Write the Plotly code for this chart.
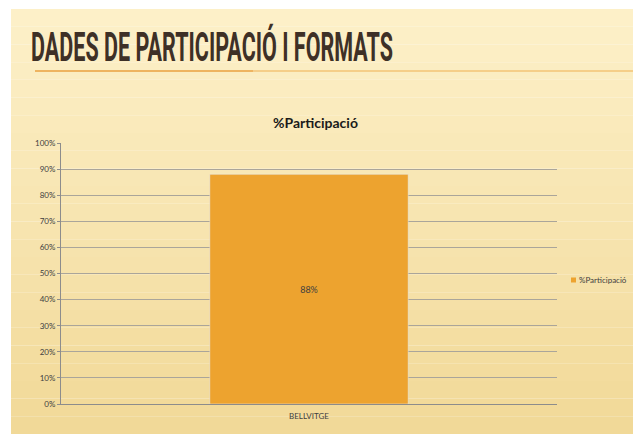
import plotly.graph_objects as go

# ── Data
categories = ['BELLVITGE']
participacio = [0.88]
value_labels = ['88%']
series_name = '%Participació'
tick_vals = [0, 0.1, 0.2, 0.3, 0.4, 0.5, 0.6, 0.7, 0.8, 0.9, 1.0]
tick_text = ['0%', '10%', '20%', '30%', '40%', '50%', '60%', '70%', '80%', '90%', '100%']

# ── Style constants (pixel positions are figure coordinates; page body adds 8px)
W, H = 633, 426
PLOT_L, PLOT_R, PLOT_T, PLOT_B = 53, 549, 135, 396
BAR_COLOR = '#eda32f'
TEXT_COLOR = '#404040'
GRID_COLOR = '#aaa59a'
CHART_FONT = 'Lato'
TITLE_WIDTH = 362


def px_x(x):
    return (x - PLOT_L) / (PLOT_R - PLOT_L)


def px_y(y):
    return (PLOT_B - y) / (PLOT_B - PLOT_T)


fig = go.Figure()

fig.add_trace(go.Bar(
    x=categories, y=participacio,
    name=series_name, showlegend=False,
    marker_color=BAR_COLOR,
    text=value_labels, textposition='inside',
    insidetextanchor='middle',
    textfont=dict(size=9, color=TEXT_COLOR, family=CHART_FONT),
    width=0.4,
))

# slide background: soft vertical gradient
shapes = []
top, bottom = (253, 240, 200), (241, 217, 152)
n_bands = 24
for i in range(n_bands):
    t = i / (n_bands - 1)
    c = tuple(round(top[k] + (bottom[k] - top[k]) * t) for k in range(3))
    y0 = 1 + (H - 1) * i / n_bands
    y1 = 1 + (H - 1) * (i + 1) / n_bands
    shapes.append(dict(
        type='rect', xref='paper', yref='paper', layer='below',
        x0=px_x(3), x1=px_x(W), y0=px_y(y1), y1=px_y(y0),
        fillcolor='rgb(%d,%d,%d)' % c, line_width=0,
    ))

# orange rule under the slide title
shapes.append(dict(
    type='line', xref='paper', yref='paper',
    x0=px_x(27), x1=px_x(245), y0=px_y(63), y1=px_y(63),
    line=dict(color='#eaa040', width=1.5),
))
shapes.append(dict(
    type='line', xref='paper', yref='paper',
    x0=px_x(245), x1=px_x(W), y0=px_y(63), y1=px_y(63),
    line=dict(color='#f0b050', width=1.2),
))

# legend key (small square swatch, like the original legend)
shapes.append(dict(
    type='rect', xref='paper', yref='paper',
    x0=px_x(563), x1=px_x(568), y0=px_y(274.5), y1=px_y(269.5),
    fillcolor=BAR_COLOR, line_width=0,
))

annotations = [
    dict(
        text='<b>DADES DE PARTICIPACIÓ I FORMATS</b>',
        xref='paper', yref='paper', x=px_x(21), y=px_y(13),
        xanchor='left', yanchor='top', showarrow=False,
        font=dict(family='Roboto', size=41, color='#3e3026'),
    ),
    dict(
        text='<b>%Participació</b>',
        xref='paper', yref='paper', x=px_x(307), y=px_y(114),
        xanchor='center', yanchor='middle', showarrow=False,
        font=dict(family=CHART_FONT, size=14, color='#1a1a1a'),
    ),
    dict(
        text=series_name,
        xref='paper', yref='paper', x=px_x(569), y=px_y(272),
        xanchor='left', yanchor='middle', showarrow=False,
        font=dict(family=CHART_FONT, size=8, color=TEXT_COLOR),
    ),
]

fig.update_layout(
    width=W, height=H,
    margin=dict(l=PLOT_L, r=W - PLOT_R, t=PLOT_T, b=H - PLOT_B),
    paper_bgcolor='white',
    plot_bgcolor='rgba(0,0,0,0)',
    shapes=shapes,
    annotations=annotations,
    showlegend=False,
)
fig.update_yaxes(
    range=[0, 1], tickvals=tick_vals, ticktext=tick_text,
    tickfont=dict(family=CHART_FONT, size=8, color=TEXT_COLOR),
    showgrid=True, gridcolor=GRID_COLOR, gridwidth=1,
    showline=True, linecolor='#8c8c8c', linewidth=1,
    ticks='outside', ticklen=3, tickcolor='#8c8c8c',
    zeroline=False,
)
fig.update_xaxes(
    tickfont=dict(family=CHART_FONT, size=8, color=TEXT_COLOR),
    showline=True, linecolor='#8c8c8c', linewidth=1,
    ticks='', showgrid=False, ticklabelstandoff=4,
)

# squeeze the slide title horizontally to mimic the condensed typeface
post = """
var gd = document.getElementById('{plot_id}');
var t = gd.querySelector('.annotation[data-index="0"] text');
if (t) {
  var bb = t.getBBox();
  var s = %d / bb.width;
  t.setAttribute('transform', 'translate(' + bb.x + ',0) scale(' + s + ',1) translate(' + (-bb.x) + ',0)');
}
""" % TITLE_WIDTH

fig.write_html('out.html', post_script=post)
